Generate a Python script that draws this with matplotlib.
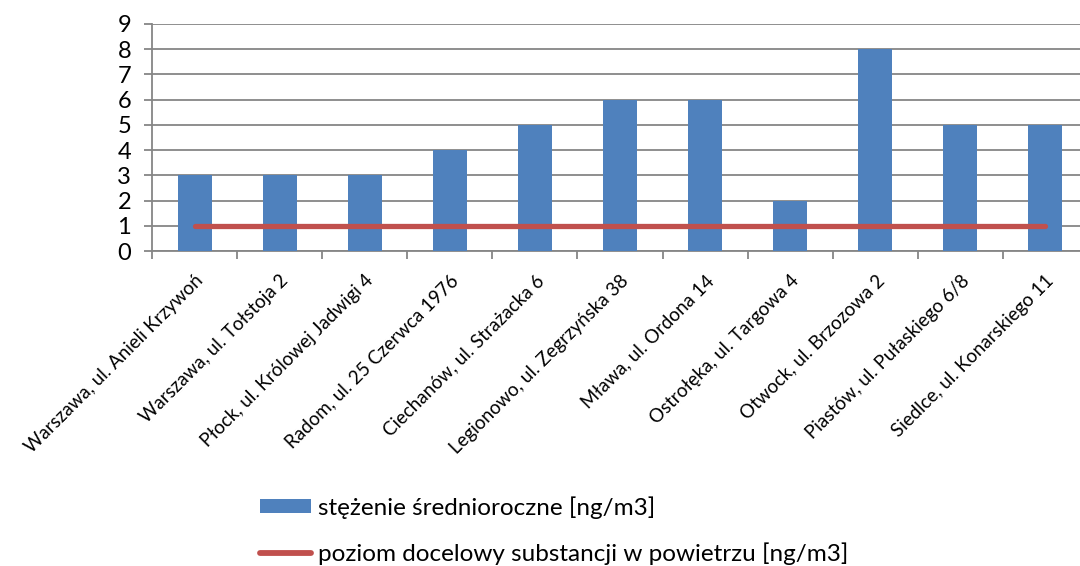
import matplotlib
matplotlib.use("Agg")
import matplotlib.pyplot as plt
from matplotlib.patches import Patch
from matplotlib.lines import Line2D
import numpy as np

plt.rcParams['font.family'] = ['Lato', 'DejaVu Sans']

stations = [
    "Warszawa, ul. Anieli Krzywoń",
    "Warszawa, ul. Tołstoja 2",
    "Płock, ul. Królowej Jadwigi 4",
    "Radom, ul. 25 Czerwca 1976",
    "Ciechanów, ul. Strażacka 6",
    "Legionowo, ul. Zegrzyńska 38",
    "Mława, ul. Ordona 14",
    "Ostrołęka, ul. Targowa 4",
    "Otwock, ul. Brzozowa 2",
    "Piastów, ul. Pułaskiego 6/8",
    "Siedlce, ul. Konarskiego 11",
]
annual_mean = [3, 3, 3, 4, 5, 6, 6, 2, 8, 5, 5]
target_level = [1] * len(stations)
yticks = list(range(0, 10))

label_bar = "stężenie średnioroczne [ng/m3]"
label_line = "poziom docelowy substancji w powietrzu [ng/m3]"

bar_color = "#4F81BD"
line_color = "#C0504D"
grid_color = "#868686"

W, H = 1080, 566
fig = plt.figure(figsize=(W / 100, H / 100), dpi=100)
ax = fig.add_axes([152 / W, 1 - 251 / H, (1088 - 152) / W, (251 - 24) / H])

x = np.arange(len(stations))
ax.bar(x, annual_mean, width=0.4, color=bar_color, zorder=3)
ax.plot(x, target_level, color=line_color, lw=3.8, solid_capstyle='round', zorder=4)

ax.set_xlim(-0.5, len(stations) - 0.5)
ax.set_ylim(0, 9)
ax.set_yticks(yticks)
ax.yaxis.grid(True, color=grid_color, lw=1.3, zorder=0)
ax.set_axisbelow(True)

# category boundaries carry the tick marks, centers carry the labels
ax.set_xticks(np.arange(-0.5, len(stations), 1.0))
ax.set_xticklabels([])
ax.set_xticks(x, minor=True)
ax.set_xticklabels(stations, minor=True, rotation=45, ha='right',
                   rotation_mode='anchor', fontsize=13.5)
ax.tick_params(axis='x', which='minor', length=0, pad=15)
ax.tick_params(axis='x', which='major', length=6, width=1.3, color=grid_color, direction='out')
ax.tick_params(axis='y', length=6, width=1.3, color=grid_color, labelsize=17, pad=9)

for side in ('top', 'right'):
    ax.spines[side].set_visible(False)
for side in ('left', 'bottom'):
    ax.spines[side].set_color(grid_color)
    ax.spines[side].set_linewidth(1.3)

handles = [Patch(facecolor=bar_color, edgecolor='none'),
           Line2D([0], [0], color=line_color, lw=4.2, solid_capstyle='round')]
fig.legend(handles, [label_bar, label_line], loc='upper left',
           bbox_to_anchor=(260 / W, 1 - 496 / H), frameon=False,
           fontsize=17.5, handlelength=2.1, handleheight=0.5,
           handletextpad=0.3, labelspacing=0.98, borderaxespad=0, borderpad=0)

fig.savefig("out.png", dpi=100)
